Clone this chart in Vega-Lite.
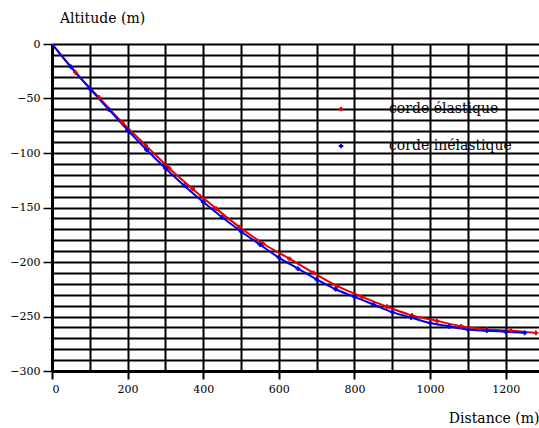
{
  "$schema": "https://vega.github.io/schema/vega-lite/v6.json",
  "width": 487,
  "height": 327,
  "autosize": {"type": "none"},
  "padding": {"left": 52, "top": 44, "right": 0, "bottom": 57},
  "background": "white",
  "config": {
    "view": {"stroke": null},
    "font": "DejaVu Serif",
    "axis": {"labelFont": "DejaVu Serif", "titleFont": "DejaVu Serif", "labelColor": "black", "titleColor": "black", "titleFontWeight": "normal"},
    "legend": {"labelFont": "DejaVu Serif"}
  },
  "data": {
    "values": [
      {"serie": "corde élastique", "distance": 0, "altitude": 0},
      {"serie": "corde élastique", "distance": 62, "altitude": -26},
      {"serie": "corde élastique", "distance": 124, "altitude": -49},
      {"serie": "corde élastique", "distance": 186, "altitude": -72},
      {"serie": "corde élastique", "distance": 248, "altitude": -93},
      {"serie": "corde élastique", "distance": 310, "altitude": -114},
      {"serie": "corde élastique", "distance": 372, "altitude": -133},
      {"serie": "corde élastique", "distance": 434, "altitude": -151},
      {"serie": "corde élastique", "distance": 496, "altitude": -168},
      {"serie": "corde élastique", "distance": 558, "altitude": -183},
      {"serie": "corde élastique", "distance": 628, "altitude": -197},
      {"serie": "corde élastique", "distance": 692, "altitude": -210},
      {"serie": "corde élastique", "distance": 754, "altitude": -222},
      {"serie": "corde élastique", "distance": 820, "altitude": -232},
      {"serie": "corde élastique", "distance": 886, "altitude": -241},
      {"serie": "corde élastique", "distance": 952, "altitude": -249},
      {"serie": "corde élastique", "distance": 1018, "altitude": -254},
      {"serie": "corde élastique", "distance": 1082, "altitude": -259},
      {"serie": "corde élastique", "distance": 1150, "altitude": -262},
      {"serie": "corde élastique", "distance": 1214, "altitude": -263},
      {"serie": "corde élastique", "distance": 1280, "altitude": -265},
      {"serie": "corde inélastique", "distance": 0, "altitude": 0},
      {"serie": "corde inélastique", "distance": 50, "altitude": -21},
      {"serie": "corde inélastique", "distance": 100, "altitude": -41},
      {"serie": "corde inélastique", "distance": 150, "altitude": -60},
      {"serie": "corde inélastique", "distance": 200, "altitude": -79},
      {"serie": "corde inélastique", "distance": 250, "altitude": -97},
      {"serie": "corde inélastique", "distance": 300, "altitude": -114},
      {"serie": "corde inélastique", "distance": 350, "altitude": -130},
      {"serie": "corde inélastique", "distance": 400, "altitude": -145},
      {"serie": "corde inélastique", "distance": 450, "altitude": -159},
      {"serie": "corde inélastique", "distance": 500, "altitude": -172},
      {"serie": "corde inélastique", "distance": 550, "altitude": -184},
      {"serie": "corde inélastique", "distance": 600, "altitude": -196},
      {"serie": "corde inélastique", "distance": 650, "altitude": -206},
      {"serie": "corde inélastique", "distance": 700, "altitude": -216},
      {"serie": "corde inélastique", "distance": 750, "altitude": -225},
      {"serie": "corde inélastique", "distance": 800, "altitude": -232},
      {"serie": "corde inélastique", "distance": 850, "altitude": -239},
      {"serie": "corde inélastique", "distance": 900, "altitude": -246},
      {"serie": "corde inélastique", "distance": 950, "altitude": -251},
      {"serie": "corde inélastique", "distance": 1000, "altitude": -256},
      {"serie": "corde inélastique", "distance": 1050, "altitude": -259},
      {"serie": "corde inélastique", "distance": 1100, "altitude": -262},
      {"serie": "corde inélastique", "distance": 1150, "altitude": -263},
      {"serie": "corde inélastique", "distance": 1200, "altitude": -264},
      {"serie": "corde inélastique", "distance": 1250, "altitude": -265}
    ]
  },
  "mark": {"type": "line", "interpolate": "monotone", "strokeWidth": 2, "clip": true,
           "point": {"shape": "cross", "size": 22, "filled": true}},
  "encoding": {
    "x": {
      "field": "distance", "type": "quantitative",
      "scale": {"domain": [0, 1288], "nice": false, "zero": false},
      "axis": {
        "values": [0,100,200,300,400,500,600,700,800,900,1000,1100,1200],
        "grid": true, "gridColor": "black", "gridWidth": 2, "gridOpacity": 1,
        "domainColor": "black", "domainWidth": 3,
        "tickColor": "black", "tickWidth": 2, "tickSize": 8,
        "tickOpacity": {"expr": "datum.value % 200 === 0 ? 1 : 0"},
        "labelExpr": "datum.value % 200 === 0 ? datum.label : ''",
        "format": "d",
        "labelFont": "DejaVu Serif",
        "titleFont": "DejaVu Serif",
        "labelFontSize": 11, "labelPadding": 4,
        "title": "Distance (m)", "titleFontSize": 14,
        "titleAnchor": "end", "titleAlign": "right", "titleX": 487, "titleY": 47, "titleBaseline": "middle"
      }
    },
    "y": {
      "field": "altitude", "type": "quantitative",
      "scale": {"domain": [-300, 0], "nice": false, "zero": false},
      "axis": {
        "values": [-300,-290,-280,-270,-260,-250,-240,-230,-220,-210,-200,-190,-180,-170,-160,-150,-140,-130,-120,-110,-100,-90,-80,-70,-60,-50,-40,-30,-20,-10,0],
        "grid": true, "gridColor": "black", "gridWidth": 2, "gridOpacity": 1,
        "domainColor": "black", "domainWidth": 3,
        "tickColor": "black", "tickWidth": 1.5, "tickSize": 9,
        "tickOpacity": {"expr": "datum.value % 50 === 0 ? 1 : 0"},
        "labelExpr": "datum.value % 50 === 0 ? datum.label : ''",
        "format": "d",
        "labelFont": "DejaVu Serif",
        "titleFont": "DejaVu Serif",
        "labelFontSize": 11, "labelPadding": 3,
        "title": "Altitude (m)", "titleFontSize": 14, "titleAngle": 0,
        "titleAlign": "center", "titleBaseline": "middle", "titleX": 50, "titleY": -26
      }
    },
    "color": {
      "field": "serie", "type": "nominal",
      "scale": {"domain": ["corde élastique", "corde inélastique"], "range": ["#e60000", "#0000e6"]},
      "legend": {
        "title": null, "orient": "none", "legendX": 282, "legendY": 58,
        "symbolType": "cross", "symbolSize": 22, "symbolStrokeWidth": 0,
        "labelFont": "DejaVu Serif",
        "labelFontSize": 14, "labelColor": "black", "labelOffset": 41, "rowPadding": 23,
        "labelLimit": 300
      }
    }
  }
}
